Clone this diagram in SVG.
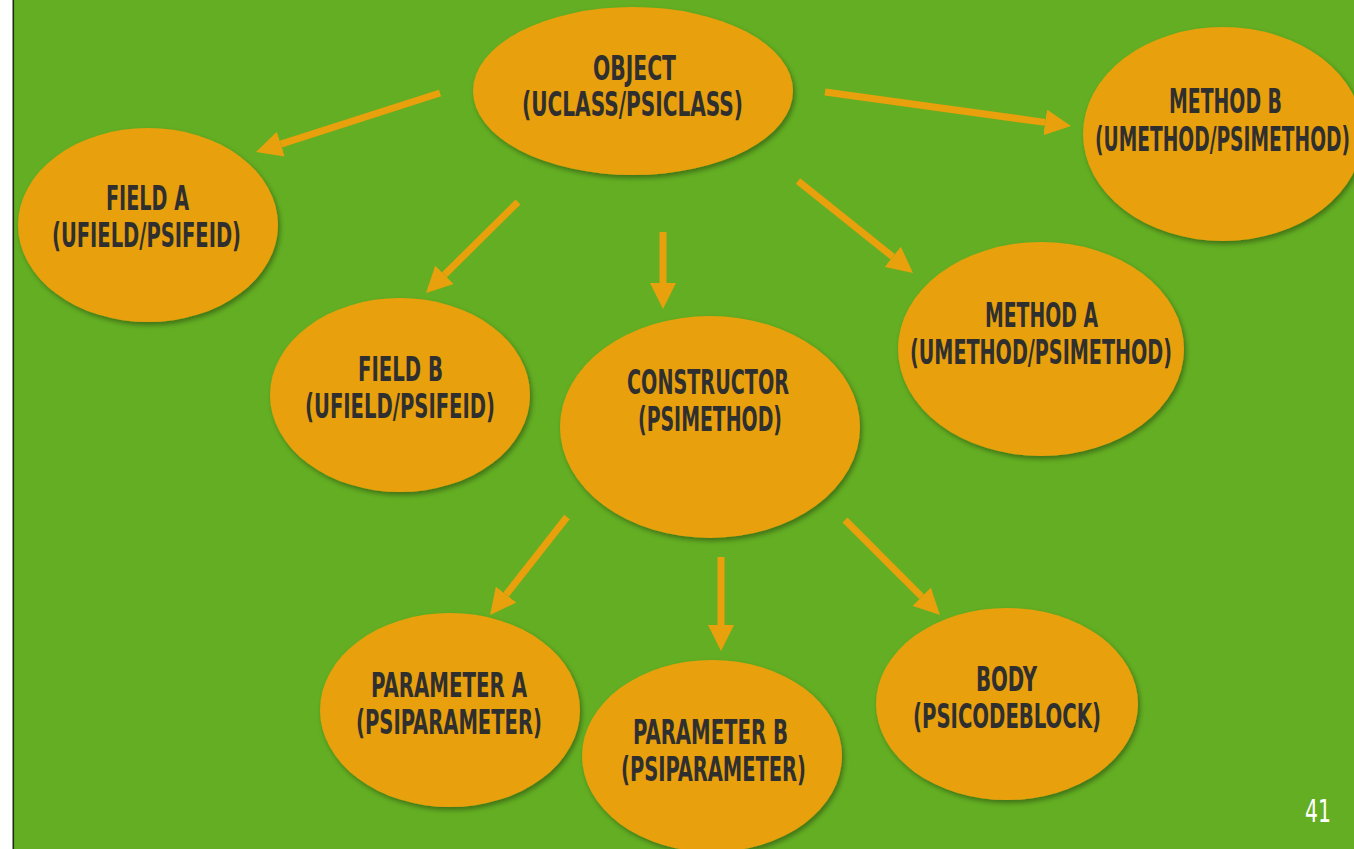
<svg xmlns="http://www.w3.org/2000/svg" width="1354" height="849" viewBox="0 0 1354 849">
<defs>
<style>
.node ellipse{fill:#E8A00C;filter:url(#sh)}
.node text{font-family:"Liberation Sans Narrow","DejaVu Sans Condensed","Liberation Sans",sans-serif;font-weight:bold;font-size:34px;fill:#2f2f2f;text-anchor:middle}
.conn line{stroke:#E8A00C;stroke-width:7;marker-end:url(#ah)}
.pg{font-family:"Liberation Sans Narrow","DejaVu Sans Condensed","Liberation Sans",sans-serif;font-size:32px;font-weight:500;fill:#ffffff;text-anchor:middle}
</style>
<filter id="sh" x="-10%" y="-10%" width="125%" height="130%">
<feDropShadow dx="2" dy="3" stdDeviation="2.5" flood-color="#000" flood-opacity="0.35"/>
</filter>
<marker id="ah" viewBox="0 0 26 26" refX="0" refY="13" markerWidth="26" markerHeight="26" markerUnits="userSpaceOnUse" orient="auto">
<path d="M0,0 L26,13 L0,26 z" fill="#E8A00C"/>
</marker>
</defs>
<rect x="0" y="0" width="1354" height="849" fill="#ffffff"/>
<rect x="14" y="0" width="1340" height="849" fill="#63AE22"/>
<rect x="12.5" y="0" width="1.6" height="849" fill="#1e2a12"/>

<g id="connectors" class="conn">
<line x1="440" y1="93" x2="280.8" y2="144.1"/>
<line x1="825" y1="92" x2="1045.2" y2="122.4"/>
<line x1="518" y1="202" x2="444.5" y2="274.7"/>
<line x1="663" y1="232" x2="663" y2="283"/>
<line x1="798" y1="181" x2="892.7" y2="256.8"/>
<line x1="567" y1="517" x2="506.1" y2="594.6"/>
<line x1="721" y1="557" x2="721" y2="625"/>
<line x1="845" y1="520" x2="921.6" y2="596.6"/>
</g>

<g id="object" class="node">
<ellipse cx="633" cy="91" rx="160" ry="84"/>
<text x="634.5" y="80" textLength="83" lengthAdjust="spacingAndGlyphs">OBJECT</text>
<text x="632.5" y="116" textLength="221" lengthAdjust="spacingAndGlyphs">(UCLASS/PSICLASS)</text>
</g>
<g id="method-b" class="node">
<ellipse cx="1223" cy="134" rx="140" ry="107"/>
<text x="1225.5" y="113" textLength="113" lengthAdjust="spacingAndGlyphs">METHOD B</text>
<text x="1222.5" y="151" textLength="255" lengthAdjust="spacingAndGlyphs">(UMETHOD/PSIMETHOD)</text>
</g>
<g id="field-a" class="node">
<ellipse cx="148" cy="225" rx="130" ry="97"/>
<text x="147.5" y="210" textLength="83" lengthAdjust="spacingAndGlyphs">FIELD A</text>
<text x="146.5" y="247" textLength="189" lengthAdjust="spacingAndGlyphs">(UFIELD/PSIFEID)</text>
</g>
<g id="field-b" class="node">
<ellipse cx="400" cy="395" rx="130" ry="97"/>
<text x="400.5" y="381" textLength="85" lengthAdjust="spacingAndGlyphs">FIELD B</text>
<text x="400" y="418" textLength="190" lengthAdjust="spacingAndGlyphs">(UFIELD/PSIFEID)</text>
</g>
<g id="constructor" class="node">
<ellipse cx="710" cy="427" rx="150" ry="111"/>
<text x="708" y="394" textLength="162" lengthAdjust="spacingAndGlyphs">CONSTRUCTOR</text>
<text x="710" y="431" textLength="144" lengthAdjust="spacingAndGlyphs">(PSIMETHOD)</text>
</g>
<g id="method-a" class="node">
<ellipse cx="1041" cy="349" rx="143" ry="107"/>
<text x="1041.5" y="327" textLength="113" lengthAdjust="spacingAndGlyphs">METHOD A</text>
<text x="1041" y="364" textLength="262" lengthAdjust="spacingAndGlyphs">(UMETHOD/PSIMETHOD)</text>
</g>
<g id="parameter-a" class="node">
<ellipse cx="450" cy="710" rx="130" ry="97"/>
<text x="449" y="697" textLength="156" lengthAdjust="spacingAndGlyphs">PARAMETER A</text>
<text x="449" y="734" textLength="186" lengthAdjust="spacingAndGlyphs">(PSIPARAMETER)</text>
</g>
<g id="parameter-b" class="node">
<ellipse cx="712" cy="756" rx="130" ry="96"/>
<text x="710.5" y="744" textLength="155" lengthAdjust="spacingAndGlyphs">PARAMETER B</text>
<text x="713.5" y="781" textLength="185" lengthAdjust="spacingAndGlyphs">(PSIPARAMETER)</text>
</g>
<g id="body" class="node">
<ellipse cx="1007" cy="704" rx="131" ry="96"/>
<text x="1006.5" y="691" textLength="61" lengthAdjust="spacingAndGlyphs">BODY</text>
<text x="1007" y="728" textLength="188" lengthAdjust="spacingAndGlyphs">(PSICODEBLOCK)</text>
</g>
<text class="pg" x="1318" y="822" textLength="26" lengthAdjust="spacingAndGlyphs">41</text>
</svg>
